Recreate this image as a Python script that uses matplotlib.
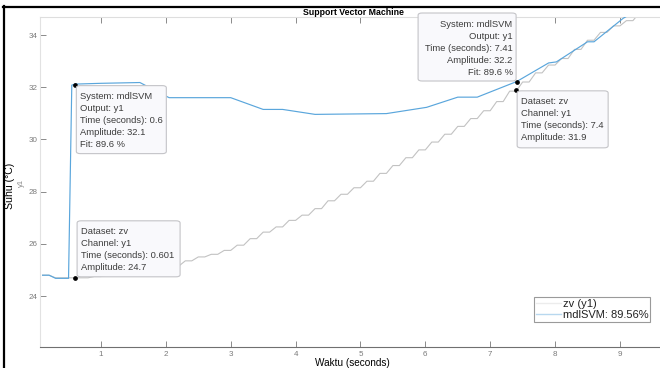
import matplotlib
matplotlib.use('Agg')
import matplotlib.pyplot as plt
from matplotlib.patches import FancyBboxPatch
from matplotlib.lines import Line2D

plt.rcParams['font.family'] = ['Liberation Sans', 'DejaVu Sans']

# ---------------- data ----------------
zv_t = [0.1, 0.2, 0.3, 0.4, 0.5, 0.6, 0.7, 0.8, 0.9, 1.0,
        1.1, 1.2, 1.3, 1.4, 1.5, 1.6, 1.7, 1.8, 1.9, 2.0,
        2.1, 2.2, 2.3, 2.4, 2.5, 2.6, 2.7, 2.8, 2.9, 3.0,
        3.1, 3.2, 3.3, 3.4, 3.5, 3.6, 3.7, 3.8, 3.9, 4.0,
        4.1, 4.2, 4.3, 4.4, 4.5, 4.6, 4.7, 4.8, 4.9, 5.0,
        5.1, 5.2, 5.3, 5.4, 5.5, 5.6, 5.7, 5.8, 5.9, 6.0,
        6.1, 6.2, 6.3, 6.4, 6.5, 6.6, 6.7, 6.8, 6.9, 7.0,
        7.1, 7.2, 7.3, 7.4, 7.5, 7.6, 7.7, 7.8, 7.9, 8.0,
        8.1, 8.2, 8.3, 8.4, 8.5, 8.6, 8.7, 8.8, 8.9, 9.0,
        9.1, 9.2, 9.3, 9.4, 9.5, 9.6]
zv_y = [24.8, 24.8, 24.7, 24.7, 24.7, 24.7, 24.7, 24.7, 24.75, 24.75,
        24.8, 24.8, 24.85, 24.85, 24.9, 24.9, 24.95, 24.95, 25.05, 25.05,
        25.15, 25.15, 25.35, 25.35, 25.5, 25.5, 25.6, 25.6, 25.75, 25.75,
        25.95, 25.95, 26.2, 26.2, 26.45, 26.45, 26.65, 26.65, 26.9, 26.9,
        27.1, 27.1, 27.35, 27.35, 27.65, 27.65, 27.9, 27.9, 28.15, 28.15,
        28.4, 28.4, 28.7, 28.7, 29.0, 29.0, 29.3, 29.3, 29.6, 29.6,
        29.9, 29.9, 30.2, 30.2, 30.5, 30.5, 30.8, 30.8, 31.1, 31.1,
        31.45, 31.45, 31.85, 31.85, 32.2, 32.2, 32.55, 32.55, 32.85, 32.85,
        33.1, 33.1, 33.45, 33.45, 33.8, 33.8, 34.1, 34.1, 34.35, 34.35,
        34.55, 34.55, 34.85, 34.85, 35.1, 35.1]

mdl_t = [0.1, 0.2, 0.3, 0.5, 0.55, 0.6, 1.0, 1.6, 2.05, 3.0, 3.5, 3.8,
         4.3, 5.4, 6.02, 6.5, 6.8, 7.41, 7.9, 8.02, 8.5, 8.6, 9.05, 9.3]
mdl_y = [24.8, 24.8, 24.68, 24.68, 32.08, 32.12, 32.15, 32.18, 31.6, 31.6,
         31.15, 31.15, 30.96, 30.99, 31.23, 31.62, 31.62, 32.22, 32.93, 32.97,
         33.74, 33.74, 34.64, 35.0]

series_labels = ['zv (y1)', 'mdlSVM: 89.56%']

tip_x = [0.6, 7.41, 7.4, 0.601]
tip_y = [32.1, 32.2, 31.9, 24.7]
tip_text = [
    ['System: mdlSVM', 'Output: y1', 'Time (seconds): 0.6', 'Amplitude: 32.1', 'Fit: 89.6 %'],
    ['System: mdlSVM', 'Output: y1', 'Time (seconds): 7.41', 'Amplitude: 32.2', 'Fit: 89.6 %'],
    ['Dataset: zv', 'Channel: y1', 'Time (seconds): 7.4', 'Amplitude: 31.9'],
    ['Dataset: zv', 'Channel: y1', 'Time (seconds): 0.601', 'Amplitude: 24.7'],
]

xticks = [1, 2, 3, 4, 5, 6, 7, 8, 9]
yticks = [24, 26, 28, 30, 32, 34]

title = 'Support Vector Machine'
xlabel = 'Waktu (seconds)'
ylabel = 'Suhu (°C)'
ylabel2 = 'y1'

# ---------------- figure ----------------
W, H = 660, 368
fig = plt.figure(figsize=(W / 100, H / 100), dpi=100)
fig.patch.set_facecolor('white')
ax = fig.add_axes([40 / W, 21 / H, (666 - 40) / W, (347 - 17) / H])

ax.plot(zv_t, zv_y, color='#c2c2c2', lw=0.8, zorder=2)
ax.plot(mdl_t, mdl_y, color='#5aa6dc', lw=0.85, zorder=3)

ax.set_xlim(0.06, 9.71)
ax.set_ylim(22.05, 34.69)
ax.set_xticks(xticks)
ax.set_yticks(yticks)
ax.tick_params(axis='both', direction='in', labelsize=5.8, labelcolor='#7a7a7a',
               color='#8a8a8a', width=0.7, length=4)
ax.tick_params(axis='x', top=True, pad=3)
ax.tick_params(axis='y', right=False, pad=2)

ax.spines['left'].set_color('#e2e2e2')
ax.spines['top'].set_color('#dedede')
ax.spines['bottom'].set_color('#707070')
ax.spines['right'].set_visible(False)
for s in ax.spines.values():
    s.set_linewidth(0.8)

ax.set_title(title, fontsize=6.3, fontweight='bold', pad=1.2)
ax.set_xlabel(xlabel, fontsize=7.2, color='black')
ax.xaxis.set_label_coords(0.499, (347 - 362.5) / 330)
ax.xaxis.label.set_va('center')
ax.set_ylabel(ylabel, fontsize=7.6, color='black')
ax.yaxis.set_label_coords((10 - 40) / 626, (347 - 186) / 330)
ax.yaxis.label.set_va('center')
ax.text((21 - 40) / 626, (347 - 183) / 330, ylabel2, transform=ax.transAxes,
        rotation=90, fontsize=5.5, color='#888888', ha='center', va='center')

# legend
handles = [Line2D([], [], color='#ececec', lw=1.0),
           Line2D([], [], color='#b8d8ef', lw=1.0)]
leg = ax.legend(handles, series_labels, loc='upper left',
                bbox_to_anchor=(534 / W, 1 - 297 / H), bbox_transform=fig.transFigure,
                fontsize=8, frameon=True, fancybox=False, framealpha=1,
                edgecolor='#9a9a9a', borderpad=0.15, handlelength=2.3,
                handletextpad=0.15, labelspacing=0.12, borderaxespad=0)
leg.get_frame().set_linewidth(0.8)
for t in leg.get_texts():
    t.set_color('#222222')

# data tips
fig.canvas.draw()
tip_geom = [
    # dx, dy (box lower-left offset from marker, px), w, h, align
    (1.3, -69, 90, 68, 'left'),
    (-98.7, 1, 98, 68, 'right'),
    (1, -58, 91, 57, 'left'),
    (2, 1, 103, 56, 'left'),
]
for (xd, yd, lines, (dx, dy, w, h, align)) in zip(tip_x, tip_y, tip_text, tip_geom):
    px, py = ax.transData.transform((xd, yd))
    x0, y0 = px + dx, py + dy
    box = FancyBboxPatch((x0 / W, y0 / H), w / W, h / H,
                         boxstyle='round,pad=0,rounding_size=0.006',
                         transform=fig.transFigure, facecolor='#f9f9fc',
                         edgecolor='#c4c4c8', lw=0.8, zorder=10)
    fig.add_artist(box)
    top = y0 + h
    for i, line in enumerate(lines):
        ly = top - 11 - 12 * i
        if align == 'left':
            lx, ha = x0 + 4, 'left'
        else:
            lx, ha = x0 + w - 3.5, 'right'
        fig.text(lx / W, ly / H, line, ha=ha, va='center', fontsize=6.75,
                 color='#3c3c3c', zorder=11)
    ax.plot([xd], [yd], 'o', color='black', ms=2.4, zorder=12, clip_on=False)

# screenshot frame
fig.add_artist(Line2D([3 / W, 1], [1 - 7 / H, 1 - 7 / H], color='black', lw=1.6,
                      transform=fig.transFigure))
fig.add_artist(Line2D([4 / W, 4 / W], [0, 1 - 6 / H], color='black', lw=1.6,
                      transform=fig.transFigure))

fig.savefig('out.png', dpi=100)
